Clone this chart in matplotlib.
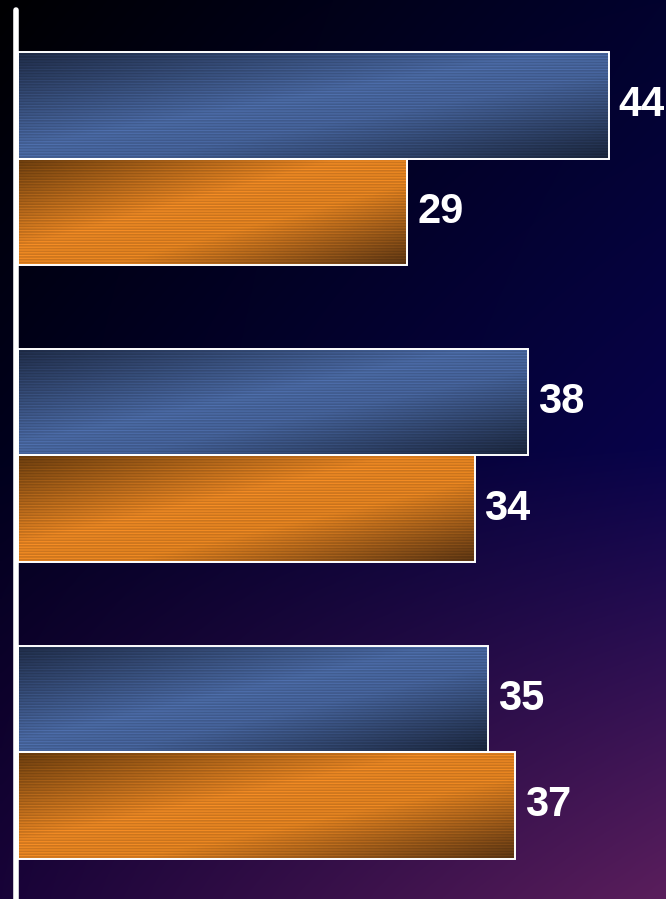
import numpy as np
import matplotlib
matplotlib.use("Agg")
import matplotlib.pyplot as plt
from matplotlib.colors import LinearSegmentedColormap, to_rgb

plt.rcParams['font.family'] = ['Liberation Sans', 'DejaVu Sans']
plt.rcParams['hatch.linewidth'] = 1.2

groups = ["Group 1", "Group 2", "Group 3"]
series_a = [44, 38, 35]   # blue bars
series_b = [29, 34, 37]   # orange bars

blue_stops = [(0.0, "#22304e"), (0.45, "#4f70ae"), (0.6, "#4a69a4"), (1.0, "#1d2942")]
orange_stops = [(0.0, "#74420f"), (0.42, "#f78e25"), (0.62, "#f08a22"), (1.0, "#643a14")]

fig = plt.figure(figsize=(6.66, 8.99), dpi=100)
ax = fig.add_axes([0, 0, 1, 1])

xmin, xmax = -1.34, 48.25
ytop, ybot = -0.535, 2.495
ax.set_xlim(xmin, xmax)
ax.set_ylim(ybot, ytop)
ax.axis("off")

# background: black top-left, navy in the middle, purple toward bottom-right
gy, gx = np.mgrid[0:1:300j, 0:1:220j]
c_tl = np.array(to_rgb("#000002"))
c_tr = np.array(to_rgb("#02022e"))
c_ml = np.array(to_rgb("#00001c"))
c_mr = np.array(to_rgb("#08034a"))
c_bl = np.array(to_rgb("#180338"))
c_br = np.array(to_rgb("#5a1e5c"))
top = c_tl[None, None, :] * (1 - gx[..., None]) + c_tr[None, None, :] * gx[..., None]
mid = c_ml[None, None, :] * (1 - gx[..., None]) + c_mr[None, None, :] * gx[..., None]
bot = c_bl[None, None, :] * (1 - gx[..., None]) + c_br[None, None, :] * gx[..., None]
w1 = np.clip(1 - 2 * gy, 0, 1)[..., None]
w3 = np.clip(2 * gy - 1, 0, 1)[..., None]
w2 = 1 - w1 - w3
bg = top * w1 + mid * w2 + bot * w3
ax.imshow(bg, extent=[xmin, xmax, ybot, ytop], aspect="auto", zorder=0,
          interpolation="bilinear")

cm_blue = LinearSegmentedColormap.from_list("b", blue_stops)
cm_orange = LinearSegmentedColormap.from_list("o", orange_stops)

bar_h = 0.359
pos = np.arange(len(groups))


def gradient_bar(x0, y0, w, h, cmap, zo):
    u, v = np.meshgrid(np.linspace(0, 1, 200), np.linspace(0, 1, 60))
    t = np.clip(0.5 * u + 0.5 * v, 0, 1)
    im = ax.imshow(t, cmap=cmap, vmin=0, vmax=1, aspect="auto",
                   extent=[x0, x0 + w, y0 + h, y0], zorder=zo,
                   interpolation="bilinear")
    rect = plt.Rectangle((x0, y0), w, h, facecolor="none", edgecolor="none")
    ax.add_patch(rect)
    im.set_clip_path(rect)
    # fine woven texture
    ax.add_patch(plt.Rectangle((x0, y0), w, h, facecolor="none",
                               edgecolor=(0, 0, 0, 0.16), hatch="------",
                               linewidth=0, zorder=zo + 0.1))
    ax.add_patch(plt.Rectangle((x0, y0), w, h, facecolor="none",
                               edgecolor="white", linewidth=1.4,
                               zorder=zo + 0.2))


for i in pos:
    gradient_bar(0, i - bar_h, series_a[i], bar_h, cm_blue, 2)
    gradient_bar(0, i, series_b[i], bar_h, cm_orange, 2)
    ax.text(series_a[i] + 0.72, i - bar_h / 2, str(series_a[i]),
            color="white", fontsize=30, fontweight="bold",
            va="center", ha="left", zorder=5)
    ax.text(series_b[i] + 0.72, i + bar_h / 2, str(series_b[i]),
            color="white", fontsize=30, fontweight="bold",
            va="center", ha="left", zorder=5)

# vertical axis line
ax.plot([-0.15, -0.15], [-0.5, 2.6], color="white", linewidth=4,
        solid_capstyle="round", zorder=6)

fig.savefig("out.png", dpi=100)
